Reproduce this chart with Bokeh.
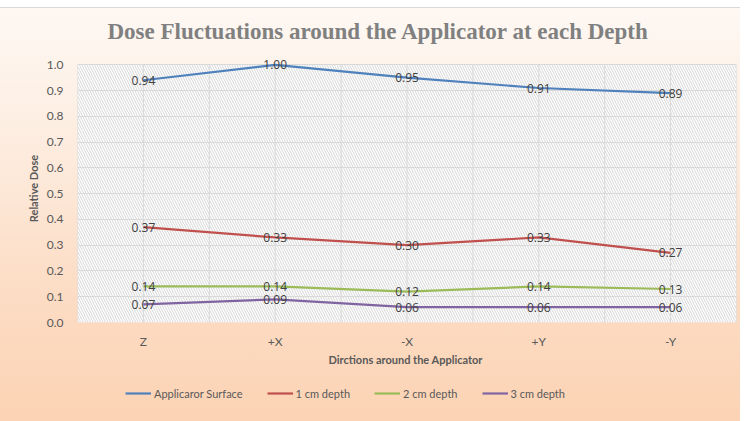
from bokeh.plotting import figure
from bokeh.layouts import column
from bokeh.models import (BoxAnnotation, FixedTicker, Legend, LegendItem, ColumnDataSource,
                          Range1d)
from bokeh.core.properties import value
from bokeh.embed import file_html
from bokeh.resources import INLINE

# ---- data ----
directions = ["Z", "+X", "-X", "+Y", "-Y"]
surface = [0.94, 1.00, 0.95, 0.91, 0.89]
depth_1cm = [0.37, 0.33, 0.30, 0.33, 0.27]
depth_2cm = [0.14, 0.14, 0.12, 0.14, 0.13]
depth_3cm = [0.07, 0.09, 0.06, 0.06, 0.06]
series_names = ["Applicaror Surface", "1 cm depth", "2 cm depth", "3 cm depth"]
series_values = [surface, depth_1cm, depth_2cm, depth_3cm]
series_colors = ["#4f81bd", "#c0504d", "#9bbb59", "#8064a2"]
y_ticks = [0.0, 0.1, 0.2, 0.3, 0.4, 0.5, 0.6, 0.7, 0.8, 0.9, 1.0]

xs = list(range(1, len(directions) + 1))
y_top = y_ticks[-1]

# the range is a little taller than the axis so the "1.00" label is not cut off
p = figure(width=740, height=380, output_backend="svg", toolbar_location=None,
           x_range=Range1d(0.5, len(directions) + 0.5), y_range=Range1d(0, 1.04),
           min_border_left=77, min_border_right=4, min_border_top=54, min_border_bottom=58)
p.border_fill_color = None
p.background_fill_color = None
p.outline_line_color = None

# hatched plot area (0 .. 1.0)
p.add_layout(BoxAnnotation(bottom=0, top=y_top, fill_color="white", fill_alpha=1.0, line_color=None,
                           hatch_pattern="\\", hatch_color="#d6d6d6", hatch_scale=5,
                           hatch_weight=1, level="image"))

# grids
p.ygrid.ticker = FixedTicker(ticks=y_ticks)
p.ygrid.grid_line_color = "#d9d9d9"
p.ygrid.grid_line_width = 1
p.xgrid.visible = False
vgrid = [x - 0.5 for x in xs] + xs + [len(xs) + 0.5]
p.segment(x0=vgrid, y0=[0] * len(vgrid), x1=vgrid, y1=[y_top] * len(vgrid),
          line_color="#d9d9d9", line_width=1, level="underlay")

# axes
p.xaxis.ticker = FixedTicker(ticks=xs)
p.xaxis.major_label_overrides = {x: d for x, d in zip(xs, directions)}
p.yaxis.ticker = FixedTicker(ticks=y_ticks)
p.yaxis.major_label_overrides = {t: f"{t:.1f}" for t in y_ticks}
for ax in (p.xaxis[0], p.yaxis[0]):
    ax.axis_line_color = None
    ax.major_tick_line_color = None
    ax.minor_tick_line_color = None
    ax.major_tick_out = 0
    ax.major_tick_in = 0
    ax.major_label_text_font = "Lato"
    ax.major_label_text_font_size = "12px"
    ax.major_label_text_color = "#595959"
    ax.axis_label_text_font = "Lato"
    ax.axis_label_text_font_style = "bold"
    ax.axis_label_text_color = "#595959"
    ax.axis_label_text_font_size = "11px"
p.xaxis.axis_label = "Dirctions around  the Applicator"
p.yaxis.axis_label = "Relative Dose"
p.xaxis.major_label_standoff = 11
p.xaxis.axis_label_standoff = 1
p.yaxis.major_label_standoff = 14
p.yaxis.axis_label_standoff = 4

# title
p.title.text = "Dose Fluctuations around the Applicator at each Depth"
p.title.align = "left"
p.title.text_font = "Liberation Serif"
p.title.text_font_style = "bold"
p.title.text_font_size = "23px"
p.title.text_color = "#808080"
p.title.offset = 30
p.title.standoff = 21

# lines + labels
for name, vals, col in zip(series_names, series_values, series_colors):
    src = ColumnDataSource(dict(x=xs, y=vals, t=[f"{v:.2f}" for v in vals]))
    p.line("x", "y", source=src, line_color=col, line_width=2.2)
    p.text("x", "y", text="t", source=src, text_align="center", text_baseline="middle",
           text_font=value("Open Sans"), text_font_size="12px", text_color="#404040")

# legend strip (same series; its ranges keep the lines out of view, only the legend shows)
q = figure(width=740, height=41, output_backend="svg", toolbar_location=None,
           x_range=Range1d(0.5, len(directions) + 0.5), y_range=Range1d(10, 11),
           x_axis_location=None, y_axis_location=None,
           min_border_left=0, min_border_right=0, min_border_top=0, min_border_bottom=0)
q.border_fill_color = None
q.background_fill_color = None
q.outline_line_color = None
q.grid.visible = False
items = []
for name, vals, col in zip(series_names, series_values, series_colors):
    r = q.line(xs, vals, line_color=col, line_width=2.2)
    items.append(LegendItem(label=name, renderers=[r]))
legend = Legend(items=items, orientation="horizontal", location=(48, 18),
                background_fill_alpha=0, border_line_color=None,
                label_text_font="Lato", label_text_font_size="11px",
                label_text_color="#595959", glyph_width=26, label_standoff=3,
                spacing=24, padding=4, margin=0)
q.add_layout(legend, "center")

layout = column(p, q, spacing=0)
layout.styles = {"background": "linear-gradient(to bottom, white 0px, white 7px, #d9d9d9 7px, #d9d9d9 8px, "
                               "#fef8f3 8px, #fdeee2 30%, #fcdcc4 70%, #fcd3b4 100%)"}

open("out.html", "w").write(file_html(layout, INLINE))
